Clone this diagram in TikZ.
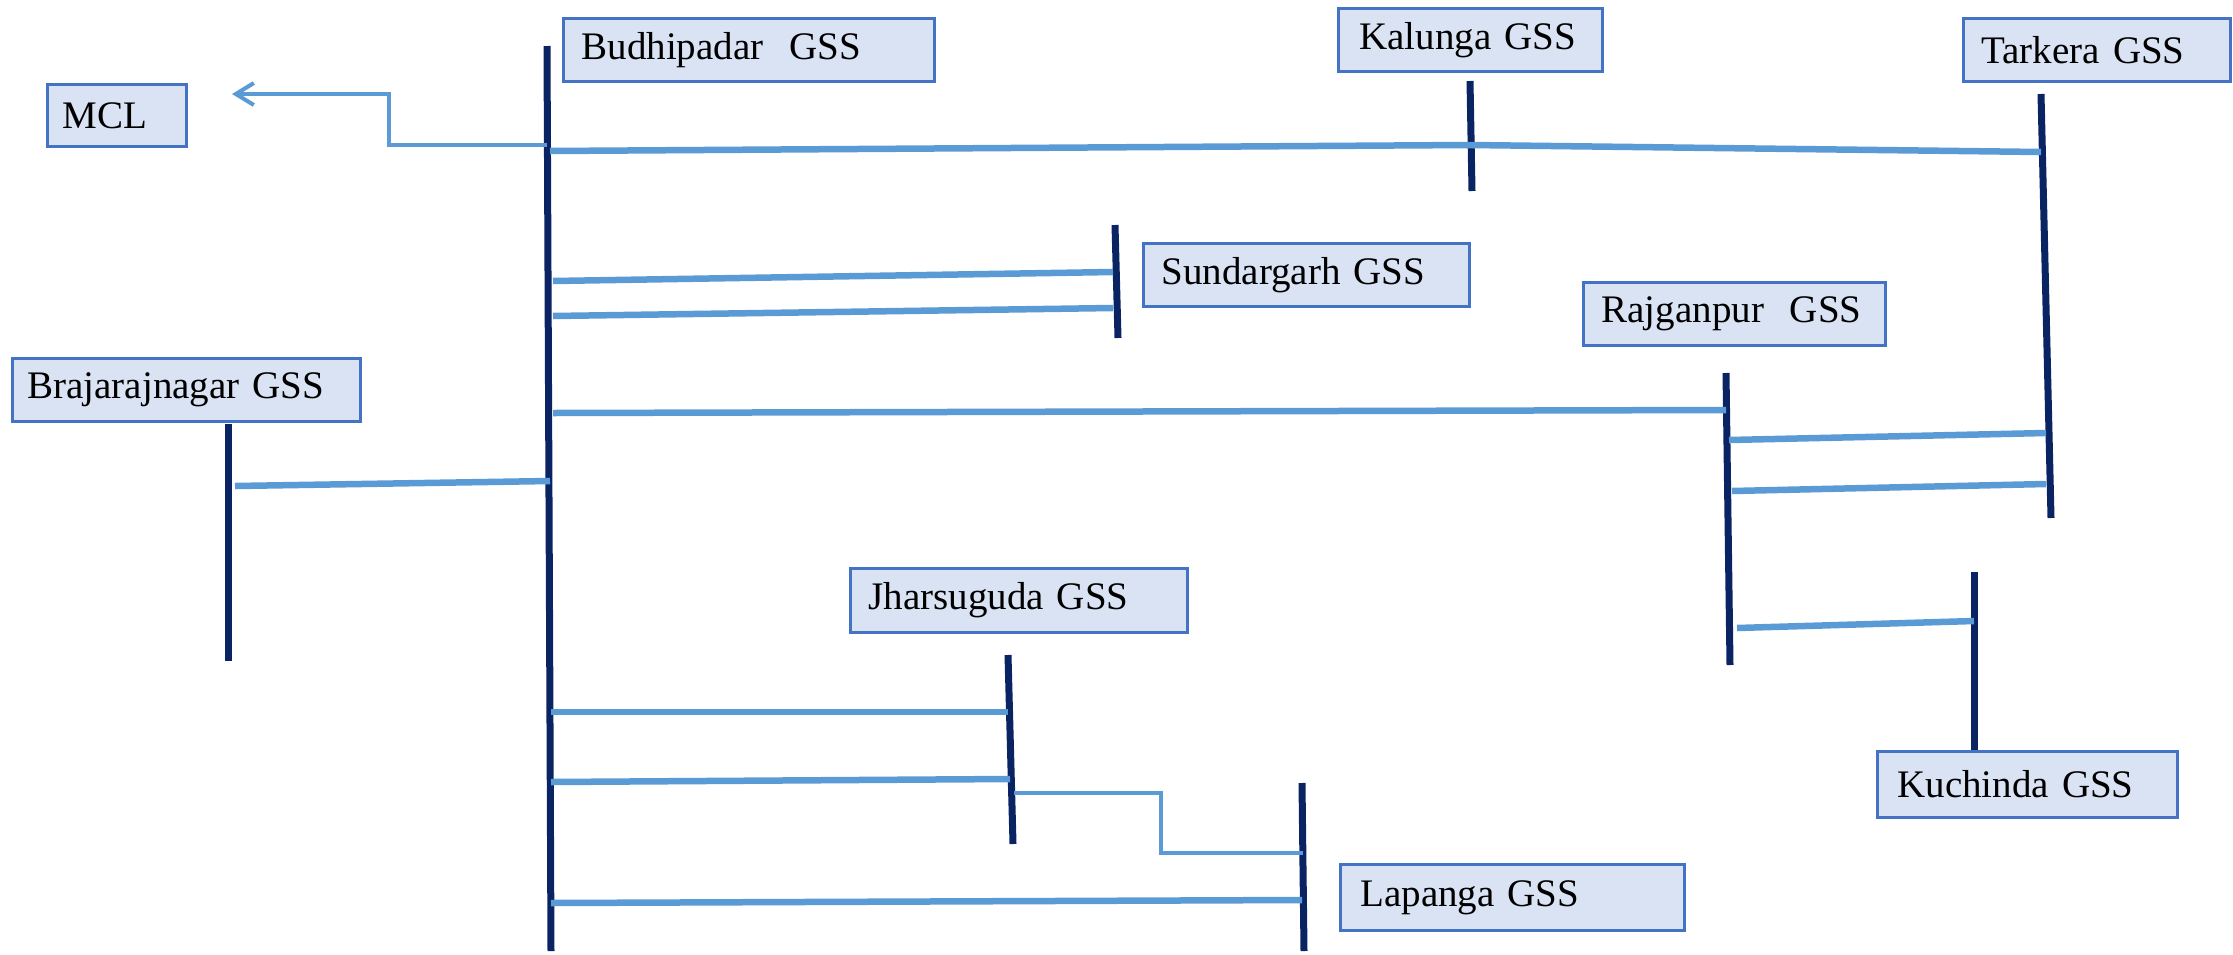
\documentclass[tikz,border=0pt]{standalone}
\usepackage{fontspec}
\setmainfont{Liberation Serif}
\usetikzlibrary{arrows.meta}
\definecolor{busnavy}{HTML}{0A2463}
\definecolor{feeder}{HTML}{5B9BD5}
\definecolor{boxfill}{HTML}{DAE3F3}
\definecolor{boxedge}{HTML}{4472C4}
\begin{document}
\begin{tikzpicture}[x=1pt,y=-1pt,
  gss/.style={draw=boxedge, fill=boxfill, line width=3pt, anchor=north west,
    align=left, inner xsep=18pt, inner ysep=0pt, minimum height=63pt,
    font=\fontsize{39}{43}\selectfont},
  busbar/.style={draw=busnavy, line width=7pt},
  line/.style={draw=feeder, line width=6.5pt},
  thinline/.style={draw=feeder, line width=4pt}]
\useasboundingbox (0,0) rectangle (2233,954);

% substation labels
\node[gss, text width=335pt] (budhipadar) at (562,17) {Budhipadar\ \ GSS};
\node[gss, text width=109pt, inner xsep=15pt, minimum height=62pt] (mcl) at (46,83) {MCL};
\node[gss, text width=222pt, inner xsep=21pt] (kalunga) at (1337,7) {Kalunga GSS};
\node[gss, text width=231pt] (tarkera) at (1962,17) {Tarkera GSS};
\node[gss, text width=290pt] (sundargarh) at (1142,242) {Sundargarh GSS};
\node[gss, text width=266pt] (rajganpur) at (1582,281) {Rajganpur\ \ GSS};
\node[gss, text width=318pt, inner xsep=15pt] (brajarajnagar) at (11,357) {Brajarajnagar GSS};
\node[gss, text width=301pt, minimum height=64pt] (jharsuguda) at (849,567) {Jharsuguda GSS};
\node[gss, text width=260pt, inner xsep=20pt, minimum height=66pt] (kuchinda) at (1876,750) {Kuchinda GSS};
\node[gss, text width=304pt, inner xsep=20pt, minimum height=66pt] (lapanga) at (1339,863) {Lapanga GSS};

% bus bar ends
\coordinate (bBt) at (547,46);   \coordinate (bBb) at (551,951);
\coordinate (kaT) at (1470,81);  \coordinate (kaB) at (1472,191);
\coordinate (taT) at (2041,94);  \coordinate (taB) at (2051,518);
\coordinate (suT) at (1115,225); \coordinate (suB) at (1118,338);
\coordinate (brT) at (228,424);  \coordinate (brB) at (228,661);
\coordinate (raT) at (1726,373); \coordinate (raB) at (1730,665);
\coordinate (kuT) at (1974,572);
\coordinate (jhT) at (1008,655); \coordinate (jhB) at (1013,844);
\coordinate (laT) at (1302,783); \coordinate (laB) at (1304,951);

\draw[busbar] (bBt) -- (bBb);
\draw[busbar] (kaT) -- (kaB);
\draw[busbar] (taT) -- (taB);
\draw[busbar] (suT) -- (suB);
\draw[busbar] (brT) -- (brB);
\draw[busbar] (raT) -- (raB);
\draw[busbar] (kuT) -- (kuchinda.north -| kuT);
\draw[busbar] (jhT) -- (jhB);
\draw[busbar] (laT) -- (laB);

% feeder taps on the bus bars
\coordinate (bM)  at (547,145);  \coordinate (mclA) at (232,94);
\coordinate (b1) at (550,151);   \coordinate (ka1) at (1470,145); \coordinate (ta1) at (2041,152);
\coordinate (b2) at (553,281);   \coordinate (su1) at (1113,272);
\coordinate (b3) at (553,316);   \coordinate (su2) at (1113,308);
\coordinate (b4) at (553,413);   \coordinate (ra1) at (1726,410);
\coordinate (br1) at (235,486);  \coordinate (b5) at (550,481);
\coordinate (ra2) at (1729,440); \coordinate (ta2) at (2046,433);
\coordinate (ra3) at (1732,491); \coordinate (ta3) at (2046,484);
\coordinate (ra4) at (1737,628); \coordinate (ku1) at (1974,621);
\coordinate (b6) at (551,712);   \coordinate (jh1) at (1008,712);
\coordinate (b7) at (551,782);   \coordinate (jh2) at (1010,779);
\coordinate (jh3) at (1014,793); \coordinate (la1) at (1303,853);
\coordinate (b8) at (551,903);   \coordinate (la2) at (1302,900);

% feeders
\draw[thinline, -{Straight Barb[length=18pt,width=22pt,line width=4pt]}]
  (bM) -- (389,145) -- (389,94) -- (mclA);
\draw[line] (b1) -- (ka1) -- (ta1);
\draw[line] (b2) -- (su1);
\draw[line] (b3) -- (su2);
\draw[line] (b4) -- (ra1);
\draw[line] (br1) -- (b5);
\draw[line] (ra2) -- (ta2);
\draw[line] (ra3) -- (ta3);
\draw[line] (ra4) -- (ku1);
\draw[line] (b6) -- (jh1);
\draw[line] (b7) -- (jh2);
\draw[thinline] (jh3) -- (1161,793) -- (1161,853) -- (la1);
\draw[line] (b8) -- (la2);
\end{tikzpicture}
\end{document}
